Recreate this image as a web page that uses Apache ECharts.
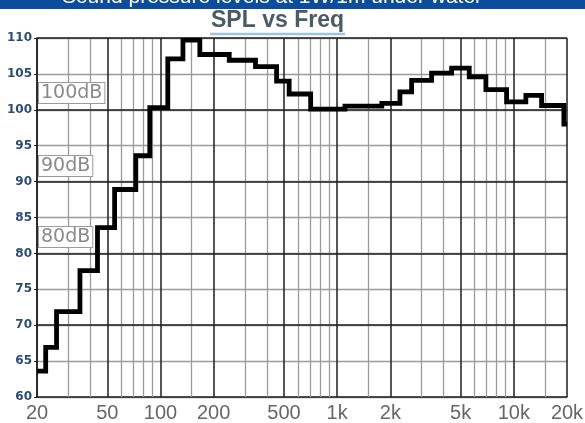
<!DOCTYPE html>
<html>
<head>
<meta charset="utf-8">
<script src="https://cdn.jsdelivr.net/npm/echarts@6/dist/echarts.min.js"></script>
<style>html,body{margin:0;padding:0;background:#fff;}#c{width:585px;height:423px;}</style>
</head>
<body>
<div id="c"></div>
<script>
// Step boundaries (Hz) and SPL level held from that frequency (dB)
const stepFreqs = [20, 22.4, 25.8, 35, 44, 55, 72.5, 87, 110, 134, 167, 245, 345, 454, 535, 708, 1107, 1790, 2266, 2640, 3424, 4446, 5594, 6950, 9100, 11700, 14360, 19200];
const splValues = [63.6, 66.9, 71.9, 77.6, 83.6, 88.9, 93.6, 100.3, 107.1, 109.7, 107.7, 106.9, 106.0, 104.0, 102.2, 100.1, 100.5, 100.9, 102.5, 104.1, 105.1, 105.8, 104.6, 102.8, 101.1, 102.0, 100.6, 98.0];
const freqEnd = 20000;

// Axis ticks
const majorFreqs = [20, 50, 100, 200, 500, 1000, 2000, 5000, 10000, 20000];
const majorLabels = ['20', '50', '100', '200', '500', '1k', '2k', '5k', '10k', '20k'];
const minorFreqs = [30, 40, 60, 70, 80, 90, 150, 300, 400, 600, 700, 800, 900, 1500, 3000, 4000, 6000, 7000, 8000, 9000, 15000];
const majorDb = [70, 80, 90, 100, 110];
const dbMin = 60, dbMax = 110, dbStep = 5;

const titleText = 'SPL vs Freq';
const bannerText = 'Sound pressure levels at 1W/1m under water';
const boxLabels = ['100dB', '90dB', '80dB'];

const stepData = stepFreqs.map((f, i) => [f, splValues[i]]);
stepData.push([freqEnd, splValues[splValues.length - 1]]);

const chart = echarts.init(document.getElementById('c'), null, {renderer: 'canvas'});
const fontFam = '"Liberation Sans", Arial, sans-serif';
const boxStyle = {fill: '#8a8a8a', fontSize: 19, fontFamily: '"DejaVu Sans", sans-serif', backgroundColor: '#fff', borderColor: '#9a9a9a', borderWidth: 1, padding: [1, 2, 0, 2]};

chart.setOption({
  animation: false,
  backgroundColor: '#ffffff',
  grid: {left: 37, right: 18, top: 38, bottom: 26, containLabel: false},
  xAxis: {
    type: 'log', logBase: 10, min: 20, max: 20000,
    axisLine: {show: true, lineStyle: {color: '#1e1e1e', width: 1.5}},
    axisTick: {show: false}, axisLabel: {show: false}, splitLine: {show: false}
  },
  yAxis: {
    type: 'value', min: dbMin, max: dbMax, interval: dbStep,
    axisLine: {show: true, lineStyle: {color: '#1e1e1e', width: 1.5}},
    axisTick: {show: true, length: 3, lineStyle: {color: '#1e1e1e'}},
    axisLabel: {margin: 5, color: '#2c4a78', fontWeight: 'bold', fontSize: 12, fontFamily: '"DejaVu Sans", sans-serif'},
    splitLine: {show: true, lineStyle: {color: '#9a9a9a', width: 1.3}}
  },
  series: [
    {
      type: 'line', data: [], silent: true, z: 1,
      markLine: {
        silent: true, symbol: ['none', 'none'], animation: false,
        lineStyle: {type: 'solid', color: '#9a9a9a', width: 1.3},
        label: {show: false},
        data: minorFreqs.map(f => ({xAxis: f}))
      }
    },
    {
      type: 'line', data: [], silent: true, z: 2,
      markLine: {
        silent: true, symbol: ['none', 'none'], animation: false,
        lineStyle: {type: 'solid', color: '#1e1e1e', width: 1.5},
        label: {show: false},
        data: majorDb.map(v => ({yAxis: v}))
      }
    },
    {
      type: 'line', data: [], silent: true, z: 2,
      markLine: {
        silent: true, symbol: ['none', 'none'], animation: false,
        lineStyle: {type: 'solid', color: '#1e1e1e', width: 1.5},
        label: {show: true, position: 'start', distance: 6, color: '#666', fontSize: 20, fontFamily: fontFam},
        data: majorFreqs.map((f, i) => ({xAxis: f, label: {formatter: majorLabels[i]}}))
      }
    },
    {
      type: 'line', step: 'end', data: stepData, z: 5,
      symbol: 'none', showSymbol: false,
      lineStyle: {color: '#000', width: 4.8, cap: 'butt', join: 'miter'}
    }
  ],
  graphic: [
    {type: 'rect', left: 0, top: 0, shape: {width: 585, height: 9}, style: {fill: '#0b4c9c'}, z: 10},
    {type: 'text', x: 272, y: 8, z: 11, style: {text: bannerText, fill: '#fff', fontSize: 21, fontFamily: fontFam, textAlign: 'center', textVerticalAlign: 'bottom'}},
    {type: 'text', x: 277.5, y: 21, z: 11, style: {text: titleText, fill: '#4a5a66', fontSize: 23, fontWeight: 'bold', fontFamily: fontFam, textAlign: 'center', textVerticalAlign: 'middle'}},
    {type: 'line', z: 11, shape: {x1: 210, y1: 34, x2: 345, y2: 34}, style: {stroke: '#9cc3e0', lineWidth: 2.5}},
    {type: 'text', x: 39, y: 83, z: 12, style: Object.assign({text: boxLabels[0]}, boxStyle)},
    {type: 'text', x: 39, y: 156, z: 12, style: Object.assign({text: boxLabels[1]}, boxStyle)},
    {type: 'text', x: 39, y: 227, z: 12, style: Object.assign({text: boxLabels[2]}, boxStyle)}
  ]
});
</script>
</body>
</html>
